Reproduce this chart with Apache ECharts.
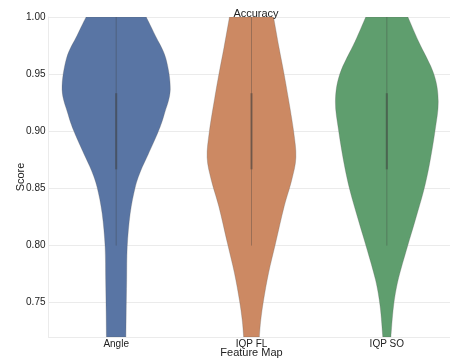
<!DOCTYPE html>
<html>
<head>
<meta charset="utf-8">
<script src="https://cdn.jsdelivr.net/npm/echarts@6/dist/echarts.min.js"></script>
<style>
  html, body { margin: 0; padding: 0; background: #fff; }
  #chart { width: 450px; height: 360px; }
</style>
</head>
<body>
<div id="chart"></div>
<script>
// Feature maps compared
const categories = ['Angle', 'IQP FL', 'IQP SO'];

// Kernel density profiles (score level -> relative density, 1 = widest violin)
const angleScore   = [1.00, 0.984, 0.964, 0.9365, 0.915, 0.90, 0.88, 0.8655, 0.851, 0.828, 0.799, 0.770, 0.741, 0.72];
const angleDensity = [0.556, 0.72, 0.917, 1.00, 0.889, 0.78, 0.593, 0.454, 0.352, 0.259, 0.204, 0.194, 0.185, 0.18];

const flScore   = [1.00, 0.973, 0.95, 0.929, 0.90, 0.877, 0.857, 0.834, 0.802, 0.776, 0.752, 0.735, 0.72];
const flDensity = [0.407, 0.509, 0.602, 0.68, 0.778, 0.82, 0.741, 0.602, 0.444, 0.315, 0.222, 0.172, 0.145];

const soScore   = [1.00, 0.9785, 0.95, 0.926, 0.90, 0.871, 0.848, 0.822, 0.799, 0.770, 0.747, 0.72];
const soDensity = [0.389, 0.587, 0.87, 0.95, 0.889, 0.787, 0.68, 0.524, 0.38, 0.209, 0.124, 0.075];

// Box summary per feature map
const whiskerLow  = [0.80, 0.80, 0.80];
const quartile1   = [0.8667, 0.8667, 0.8667];
const quartile3   = [0.9333, 0.9333, 0.9333];
const whiskerHigh = [1.00, 1.00, 1.00];

// Axis ticks
const yTicks = [0.75, 0.80, 0.85, 0.90, 0.95, 1.00];
const yMin = 0.72, yMax = 1.00;

const profiles = [
  { score: angleScore, density: angleDensity },
  { score: flScore, density: flDensity },
  { score: soScore, density: soDensity }
];
const colors = ['#5975a4', '#cc8963', '#5f9e6e'];

// Smooth cubic segments through one outline side (Catmull-Rom -> Bezier)
function sidePath(p, startWithMove) {
  let d = startWithMove ? 'M' + p[0][0] + ' ' + p[0][1] : 'L' + p[0][0] + ' ' + p[0][1];
  for (let k = 0; k < p.length - 1; k++) {
    const p0 = p[Math.max(k - 1, 0)], p1 = p[k], p2 = p[k + 1], p3 = p[Math.min(k + 2, p.length - 1)];
    const c1x = p1[0] + (p2[0] - p0[0]) / 6, c1y = p1[1] + (p2[1] - p0[1]) / 6;
    const c2x = p2[0] - (p3[0] - p1[0]) / 6, c2y = p2[1] - (p3[1] - p1[1]) / 6;
    d += ' C' + c1x + ' ' + c1y + ' ' + c2x + ' ' + c2y + ' ' + p2[0] + ' ' + p2[1];
  }
  return d;
}

function renderViolin(params, api) {
  const i = api.value(0);
  const prof = profiles[i];
  const band = api.size([1, 0])[0];
  const maxHalf = band * 0.4;
  const right = [], left = [];
  for (let k = 0; k < prof.score.length; k++) {
    const c = api.coord([i, prof.score[k]]);
    const hw = prof.density[k] * maxHalf;
    right.push([c[0] + hw, c[1]]);
    left.unshift([c[0] - hw, c[1]]);
  }
  const pathData = sidePath(right, true) + ' ' + sidePath(left, false) + ' Z';
  const lo = api.coord([i, whiskerLow[i]]);
  const hi = api.coord([i, whiskerHigh[i]]);
  const q1 = api.coord([i, quartile1[i]]);
  const q3 = api.coord([i, quartile3[i]]);
  return {
    type: 'group',
    children: [
      {
        type: 'path',
        shape: { pathData: pathData },
        style: { fill: colors[i], stroke: 'rgba(90,90,90,0.35)', lineWidth: 0.8 }
      },
      {
        type: 'line',
        shape: { x1: lo[0], y1: lo[1], x2: hi[0], y2: hi[1] },
        style: { stroke: 'rgba(60,60,60,0.35)', lineWidth: 1 }
      },
      {
        type: 'line',
        shape: { x1: q1[0], y1: q1[1], x2: q3[0], y2: q3[1] },
        style: { stroke: 'rgba(60,60,60,0.45)', lineWidth: 2.2 }
      }
    ]
  };
}

const chart = echarts.init(document.getElementById('chart'), null, { renderer: 'canvas' });
const font = '"Liberation Sans", Arial, sans-serif';

chart.setOption({
  animation: false,
  backgroundColor: '#ffffff',
  title: {
    text: 'Accuracy',
    left: 251, top: 3, textAlign: 'center',
    textStyle: { fontSize: 11, fontWeight: 'normal', color: '#222', fontFamily: font }
  },
  grid: { left: 48.5, right: -4.5, top: 17, bottom: 23, containLabel: false, outerBoundsMode: 'none' },
  xAxis: {
    type: 'category',
    data: categories,
    boundaryGap: true,
    name: 'Feature Map',
    nameLocation: 'middle',
    nameGap: 10,
    nameMoveOverlap: false,
    nameTextStyle: { fontSize: 11, color: '#222', fontFamily: font },
    axisLine: { show: true, lineStyle: { color: '#ebebeb', width: 1 } },
    axisTick: { show: false },
    axisLabel: { fontSize: 10, color: '#222', margin: 2, fontFamily: font },
    splitLine: { show: false }
  },
  yAxis: {
    type: 'value',
    min: yMin, max: yMax,
    name: 'Score',
    nameLocation: 'middle',
    nameGap: 22,
    nameMoveOverlap: false,
    nameTextStyle: { fontSize: 11, color: '#222', fontFamily: font },
    axisLine: { show: true, lineStyle: { color: '#ebebeb', width: 1 } },
    axisTick: { show: false, customValues: yTicks },
    axisLabel: {
      fontSize: 10, color: '#222', margin: 3, fontFamily: font,
      customValues: yTicks,
      formatter: v => v.toFixed(2)
    },
    splitLine: { show: true, lineStyle: { color: '#ebebeb', width: 1 } }
  },
  series: [{
    type: 'custom',
    renderItem: renderViolin,
    clip: true,
    data: categories.map((c, i) => [i]),
    encode: { x: 0, y: -1 },
    silent: true
  }]
});
</script>
</body>
</html>
